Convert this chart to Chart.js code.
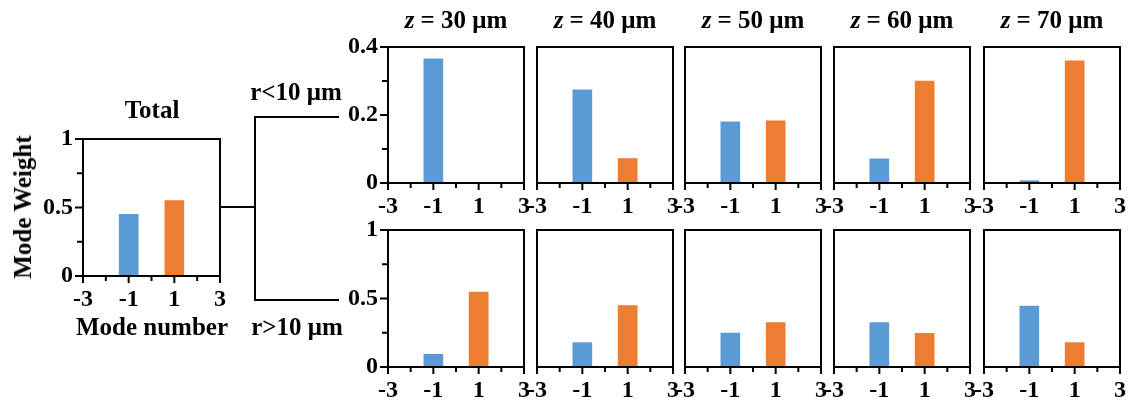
<!DOCTYPE html>
<html>
<head>
<meta charset="utf-8">
<script src="https://cdn.jsdelivr.net/npm/chart.js@4.4.1/dist/chart.umd.min.js"></script>
<style>
  body { margin: 0; background: #fff; width: 1129px; height: 401px; position: relative; overflow: hidden;
         font-family: "Liberation Serif", "Times New Roman", serif; font-weight: bold; color: #000; }
  .lbl { position: absolute; font-size: 25px; white-space: nowrap; transform: translate(-50%, -50%); }
  .ln { position: absolute; background: #000; }
  canvas { position: absolute; }
</style>
</head>
<body>
<div id="stage"></div>
<script>
// mode numbers shown as bars, and the tick labels
const modes = [-1, 1];
const xTicks = [-3, -1, 1, 3];
const topYTicks = [0, 0.2, 0.4];
const bottomYTicks = [0, 0.5, 1];
const zValues = [30, 40, 50, 60, 70];

// Total mode weight (mode -1, mode 1)
const totalWeights = [0.45, 0.55];
// r < 10 um, per z
const innerMinus1 = [0.365, 0.274, 0.18, 0.071, 0.007];
const innerPlus1  = [0, 0.072, 0.183, 0.30, 0.359];
// r > 10 um, per z
const outerMinus1 = [0.093, 0.178, 0.248, 0.324, 0.445];
const outerPlus1  = [0.547, 0.448, 0.324, 0.246, 0.178];

const BLUE = '#5b9bd5';
const ORANGE = '#ed7d31';
const FONT = { family: 'Liberation Serif', weight: 'bold', size: 24 };

// margins around each plot area inside its canvas
const PL = 55, PT = 32, PR = 14, PB = 44;

// draws the box round the plot and the outward tick marks
const framePlugin = {
  id: 'frame',
  afterDraw(chart, args, opts) {
    const ctx = chart.ctx;
    const a = chart.chartArea;
    const xs = chart.scales.x, ys = chart.scales.y;
    ctx.save();
    ctx.strokeStyle = '#000';
    ctx.lineWidth = 2;
    ctx.strokeRect(a.left, a.top, a.right - a.left, a.bottom - a.top);
    ctx.beginPath();
    for (let v = -3; v <= 3; v++) {
      const px = xs.getPixelForValue(v);
      const len = (v % 2 !== 0) ? 7 : 5;
      ctx.moveTo(px, a.bottom);
      ctx.lineTo(px, a.bottom + len);
    }
    if (opts.showY) {
      const t = opts.yTicks;
      for (let i = 0; i < t.length; i++) {
        const py = ys.getPixelForValue(t[i]);
        ctx.moveTo(a.left, py);
        ctx.lineTo(a.left - 8, py);
        if (i < t.length - 1) {
          const pm = ys.getPixelForValue((t[i] + t[i + 1]) / 2);
          ctx.moveTo(a.left, pm);
          ctx.lineTo(a.left - 6, pm);
        }
      }
    }
    ctx.stroke();
    ctx.restore();
  }
};

function makePanel(left, top, w, h, values, yTicks, showY) {
  const cv = document.createElement('canvas');
  cv.width = PL + w + PR;
  cv.height = PT + h + PB;
  cv.style.left = (left - PL) + 'px';
  cv.style.top = (top - PT) + 'px';
  document.getElementById('stage').appendChild(cv);

  new Chart(cv.getContext('2d'), {
    type: 'bar',
    data: {
      datasets: [{
        data: modes.map((m, i) => ({ x: m, y: values[i] })),
        backgroundColor: [BLUE, ORANGE],
        borderWidth: 0,
        barThickness: 19
      }]
    },
    options: {
      responsive: false,
      animation: false,
      events: [],
      layout: { padding: { top: PT, right: PR, left: 0, bottom: 0 } },
      plugins: {
        legend: { display: false },
        tooltip: { enabled: false },
        frame: { showY: showY, yTicks: yTicks }
      },
      scales: {
        x: {
          type: 'linear',
          offset: false,
          min: -3,
          max: 3,
          afterBuildTicks: s => { s.ticks = xTicks.map(v => ({ value: v })); },
          afterFit: s => { s.height = PB; },
          grid: { display: false, drawTicks: false, offset: false },
          border: { display: false },
          ticks: { font: FONT, color: '#000', padding: 9, maxRotation: 0, autoSkip: false,
                   callback: v => String(v) }
        },
        y: {
          min: 0,
          max: yTicks[yTicks.length - 1],
          afterBuildTicks: s => { s.ticks = yTicks.map(v => ({ value: v })); },
          afterFit: s => { s.width = PL; },
          grid: { display: false, drawTicks: false },
          border: { display: false },
          ticks: { display: showY, font: FONT, color: '#000', padding: 10,
                   callback: v => String(v) }
        }
      }
    },
    plugins: [framePlugin]
  });
}

function addLabel(html, x, y, rotate) {
  const d = document.createElement('div');
  d.className = 'lbl';
  d.innerHTML = html;
  d.style.left = x + 'px';
  d.style.top = y + 'px';
  if (rotate) d.style.transform = 'translate(-50%, -50%) rotate(-90deg)';
  document.getElementById('stage').appendChild(d);
}

function addLine(x, y, w, h) {
  const d = document.createElement('div');
  d.className = 'ln';
  d.style.left = x + 'px';
  d.style.top = y + 'px';
  d.style.width = w + 'px';
  d.style.height = h + 'px';
  document.getElementById('stage').appendChild(d);
}

// Total panel
makePanel(83, 139, 138, 137, totalWeights, bottomYTicks, true);
addLabel('Total', 152, 110);
addLabel('Mode Weight', 23, 207, true);
addLabel('Mode number', 152, 327);

// bracket joining Total to the two rows
addLine(221, 206, 35, 2);
addLine(254, 116, 2, 185);
addLine(254, 116, 85, 2);
addLine(254, 299, 85, 2);
addLabel('r&lt;10 μm', 296, 92);
addLabel('r&gt;10 μm', 297, 327);

// z columns
const colLefts = [388, 537, 685, 834, 984];
colLefts.forEach((x, i) => {
  makePanel(x, 47, 137, 136, [innerMinus1[i], innerPlus1[i]], topYTicks, i === 0);
  makePanel(x, 230, 137, 137, [outerMinus1[i], outerPlus1[i]], bottomYTicks, i === 0);
  addLabel('<i>z</i> = ' + zValues[i] + ' μm', x + 68, 20);
});
</script>
</body>
</html>
